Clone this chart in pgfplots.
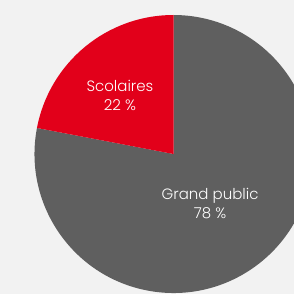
\documentclass[border=0pt]{standalone}
\usepackage{pgfplots}
\pgfplotsset{compat=1.18}
\usepackage{pgfplotstable}
\usepackage{fontspec}
\setmainfont{Poppins}[UprightFont=* Light]
\definecolor{bg}{HTML}{F2F2F2}
\definecolor{pgray}{HTML}{5F5F5F}
\definecolor{pred}{HTML}{E2001A}
\pgfplotstableread{
label value
Scolaires 22
GrandPublic 78
}\piedata
\begin{document}
\begin{tikzpicture}
\pgfplotstablegetelem{0}{value}\of\piedata \let\va\pgfplotsretval
\pgfplotstablegetelem{1}{value}\of\piedata \let\vb\pgfplotsretval
\begin{axis}[scale only axis, width=294pt, height=293pt,
  xmin=-1.2482, xmax=0.8669, ymin=-1, ymax=1.1079, hide axis, clip=true]
\fill[bg] (axis cs:-3,-3) rectangle (axis cs:3,3);
\fill[pgray] (axis cs:0,0) -- ++({90+3.6*\va}:139pt) arc[start angle={90+3.6*\va}, end angle={90+3.6*\va+3.6*\vb}, radius=139pt] -- cycle;
\fill[pred] (axis cs:0,0) -- ++(90:139pt) arc[start angle=90, end angle={90+3.6*\va}, radius=139pt] -- cycle;
\node[white, align=center, font=\fontsize{15}{19}\selectfont] at (axis cs:-0.385,0.424) {Scolaires\\22~\%};
\node[white, align=center, font=\fontsize{15}{19}\selectfont] at (axis cs:0.263,-0.353) {Grand public\\78~\%};
\end{axis}
\pgfresetboundingbox
\useasboundingbox (current axis.south west) rectangle (current axis.north east);
\end{tikzpicture}
\end{document}
